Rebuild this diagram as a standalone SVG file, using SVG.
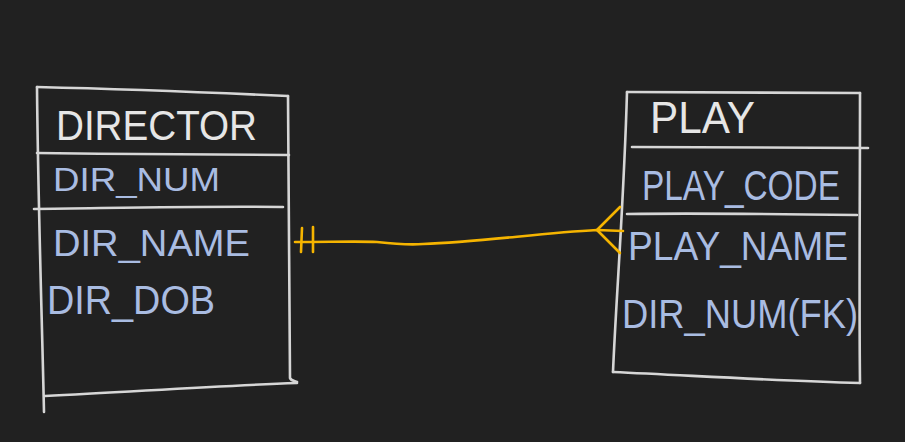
<svg xmlns="http://www.w3.org/2000/svg" width="905" height="442" viewBox="0 0 905 442">
<style>
.bg{fill:#212121}
.box{fill:none;stroke:#d6d6d6;stroke-width:2.6;stroke-linecap:round;stroke-linejoin:round}
.title{fill:#e6e6e6;font-family:"Liberation Sans","DejaVu Sans",sans-serif;font-weight:normal}
.attr{fill:#a9bce2;font-family:"Liberation Sans","DejaVu Sans",sans-serif;font-weight:normal}
.rel{fill:none;stroke:#f5b400;stroke-width:2.6;stroke-linecap:round;stroke-linejoin:round}
</style>
<rect class="bg" x="0" y="0" width="905" height="442"/>
<g id="director">
  <path class="box" d="M37,87 C120,89 200,92 288,96"/>
  <path class="box" d="M37,87 C38,200 42,320 44,412"/>
  <path class="box" d="M288,96 C289,200 290,300 290,378 C291,381 295,381 297,382"/>
  <path class="box" d="M45,396 C130,392 210,386 297,383"/>
  <path class="box" d="M37,153 C120,154 200,155 289,155"/>
  <path class="box" d="M34,209 C120,208 200,206 283,207"/>
  <text class="title" x="56" y="140" font-size="42" textLength="201" lengthAdjust="spacingAndGlyphs">DIRECTOR</text>
  <text class="attr" x="53" y="191" font-size="33" textLength="167" lengthAdjust="spacingAndGlyphs">DIR_NUM</text>
  <text class="attr" x="53" y="256" font-size="36" textLength="197" lengthAdjust="spacingAndGlyphs">DIR_NAME</text>
  <text class="attr" x="47" y="314" font-size="40" textLength="168" lengthAdjust="spacingAndGlyphs">DIR_DOB</text>
</g>
<g id="play">
  <path class="box" d="M627,92 C700,93 780,93 860,93"/>
  <path class="box" d="M627,92 C624,200 616,300 613,372"/>
  <path class="box" d="M860,93 C860,200 859,300 860,383"/>
  <path class="box" d="M613,372 C700,376 780,381 860,383"/>
  <path class="box" d="M632,147 C720,147 800,148 868,148"/>
  <path class="box" d="M627,214 C700,213 780,214 857,215"/>
  <text class="title" x="650" y="133" font-size="44" textLength="105" lengthAdjust="spacingAndGlyphs">PLAY</text>
  <text class="attr" x="642" y="200" font-size="42" textLength="198" lengthAdjust="spacingAndGlyphs">PLAY_CODE</text>
  <text class="attr" x="628" y="260" font-size="40" textLength="220" lengthAdjust="spacingAndGlyphs">PLAY_NAME</text>
  <text class="attr" x="622" y="328" font-size="40" textLength="236" lengthAdjust="spacingAndGlyphs">DIR_NUM(FK)</text>
</g>
<g id="connectors">
  <path class="rel" d="M295,242 C330,242 360,241 377,242 C395,244 410,245 423,244 C480,242 540,233 597,230 L623,231"/>
  <path class="rel" d="M302,228 L301,252"/>
  <path class="rel" d="M313,227 L313,252"/>
  <path class="rel" d="M620,207 L597,230 L620,253"/>
</g>
</svg>
